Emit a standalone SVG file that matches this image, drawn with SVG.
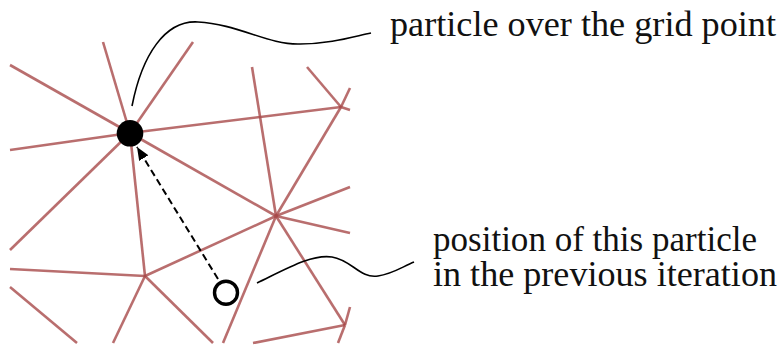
<svg xmlns="http://www.w3.org/2000/svg" width="783" height="345" viewBox="0 0 783 345">
  <style>
    .grid line { stroke: #a84a4a; stroke-width: 2.6; stroke-opacity: 0.8; stroke-linecap: butt; }
    .lead { fill: none; stroke: #000; stroke-width: 1.6; }
    .lbl { font-family: "Liberation Serif", "Times New Roman", serif; fill: #111; }
  </style>
  <defs>
    <marker id="ah" viewBox="0 0 12 10" refX="12" refY="5" markerWidth="13" markerHeight="11" markerUnits="userSpaceOnUse" orient="auto">
      <path d="M0,0 L12,5 L0,10 Z" fill="#000"/>
    </marker>
  </defs>
  <rect width="783" height="345" fill="#fff"/>

  <g id="mesh" class="grid">
    <line x1="130" y1="133" x2="103" y2="42"/>
    <line x1="130" y1="133" x2="193" y2="42"/>
    <line x1="130" y1="133" x2="10" y2="65"/>
    <line x1="130" y1="133" x2="10" y2="150"/>
    <line x1="130" y1="133" x2="341" y2="107"/>
    <line x1="130" y1="133" x2="10" y2="250"/>
    <line x1="130" y1="133" x2="145" y2="276"/>
    <line x1="130" y1="133" x2="276" y2="216"/>
    <line x1="276" y1="216" x2="252" y2="67"/>
    <line x1="276" y1="216" x2="341" y2="107"/>
    <line x1="341" y1="107" x2="307" y2="67"/>
    <line x1="341" y1="107" x2="350" y2="88"/>
    <line x1="341" y1="107" x2="350" y2="110"/>
    <line x1="276" y1="216" x2="350" y2="187"/>
    <line x1="276" y1="216" x2="350" y2="233"/>
    <line x1="276" y1="216" x2="345" y2="325"/>
    <line x1="276" y1="216" x2="145" y2="276"/>
    <line x1="276" y1="216" x2="223" y2="343"/>
    <line x1="145" y1="276" x2="10" y2="269"/>
    <line x1="145" y1="276" x2="113" y2="343"/>
    <line x1="145" y1="276" x2="213" y2="343"/>
    <line x1="10" y1="287" x2="77" y2="343"/>
    <line x1="345" y1="325" x2="253" y2="343"/>
    <line x1="345" y1="325" x2="350" y2="307"/>
    <line x1="345" y1="325" x2="338" y2="343"/>
  </g>

  <g id="connectors">
    <path id="lead-top" class="lead" d="M132,106 C142,55 165,20 198,22 C238,24 268,45 300,44 C330,44 352,37 371,33"/>
    <path id="lead-bottom" class="lead" d="M257,283 C288,268 312,254 332,257 C352,260 360,279 378,276 C392,274 402,267 414,262"/>
    <line id="move" x1="218" y1="279" x2="137" y2="147" stroke="#000" stroke-width="2" stroke-dasharray="7 4" marker-end="url(#ah)"/>
  </g>

  <g id="particle">
    <circle cx="130" cy="133.3" r="13.3" fill="#000"/>
  </g>
  <g id="previous">
    <circle cx="226" cy="292.7" r="11.5" fill="#fff" stroke="#000" stroke-width="3.4"/>
  </g>

  <g id="label-top">
    <text class="lbl" x="390" y="35.5" font-size="36" textLength="386" lengthAdjust="spacingAndGlyphs">particle over the grid point</text>
  </g>
  <g id="label-bottom">
    <text class="lbl" x="433" y="250.5" font-size="35" textLength="324" lengthAdjust="spacingAndGlyphs">position of this particle</text>
    <text class="lbl" x="433" y="286" font-size="35" textLength="344" lengthAdjust="spacingAndGlyphs">in the previous iteration</text>
  </g>
</svg>
